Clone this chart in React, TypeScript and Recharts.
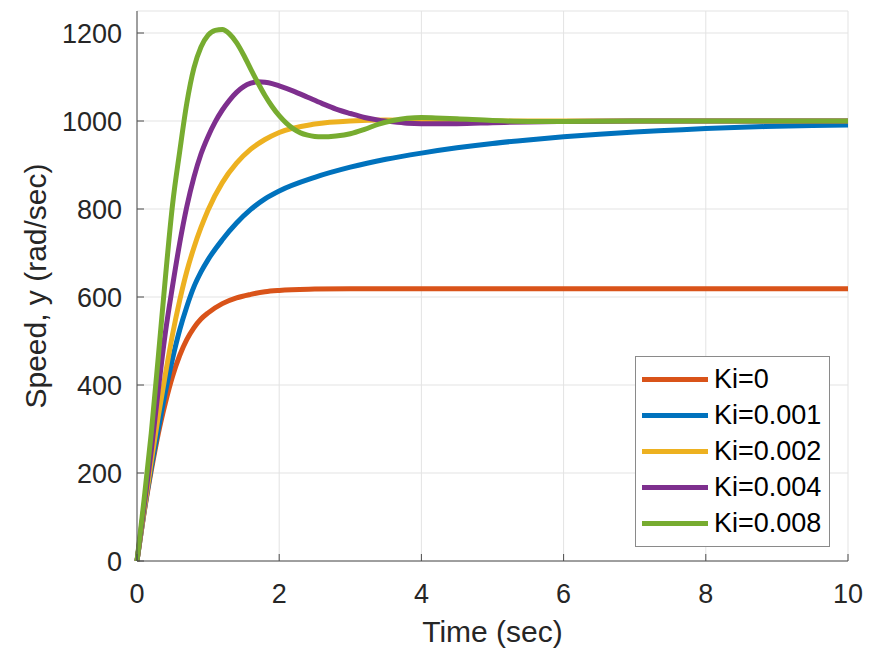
import React from "react";
import {
  CartesianGrid,
  Legend,
  Line,
  LineChart,
  XAxis,
  YAxis,
} from "recharts";

// time samples (sec) and speed (rad/sec), one pair per Ki
const timeKi0 = [0, 0.1, 0.2, 0.3, 0.4, 0.5, 0.6, 0.7, 0.8, 0.9, 1.0, 1.2, 1.4, 1.6, 1.8, 2.0, 2.5, 3, 4, 6, 8, 10];
const speedKi0 = [0, 110, 205, 290, 360, 420, 467, 503, 530, 550, 564, 585, 598, 606, 612, 615, 618, 619, 619, 619, 619, 619];

const timeKi001 = [0, 0.1, 0.2, 0.3, 0.4, 0.5, 0.6, 0.7, 0.8, 0.9, 1.0, 1.2, 1.4, 1.6, 1.8, 2.0, 2.5, 3, 3.5, 4, 4.5, 5, 5.5, 6, 6.5, 7, 7.5, 8, 8.5, 9, 9.5, 10];
const speedKi001 = [0, 112, 212, 300, 385, 460, 525, 578, 623, 657, 685, 730, 768, 799, 823, 841, 872, 895, 913, 927, 939, 949, 957, 964, 970, 975, 979, 983, 986, 988, 990, 991];

const timeKi002 = [0, 0.1, 0.2, 0.3, 0.4, 0.5, 0.6, 0.7, 0.8, 0.9, 1.0, 1.2, 1.4, 1.6, 1.8, 2.0, 2.5, 3, 3.5, 4, 5, 6, 8, 10];
const speedKi002 = [0, 115, 225, 330, 425, 515, 592, 658, 712, 758, 798, 860, 904, 936, 958, 974, 993, 1000, 1002, 1001, 1000, 1000, 1000, 1000];

const timeKi004 = [0, 0.1, 0.2, 0.3, 0.4, 0.5, 0.6, 0.7, 0.8, 0.9, 1.0, 1.1, 1.2, 1.3, 1.4, 1.5, 1.6, 1.7, 1.8, 1.9, 2.0, 2.2, 2.4, 2.6, 2.8, 3.0, 3.2, 3.4, 3.6, 3.8, 4.0, 4.5, 5, 5.5, 6, 7, 8, 10];
const speedKi004 = [0, 125, 250, 390, 520, 625, 722, 805, 872, 925, 965, 998, 1025, 1047, 1065, 1078, 1086, 1089, 1088, 1085, 1080, 1068, 1054, 1040, 1027, 1017, 1008, 1002, 998, 995, 994, 994, 996, 998, 999, 1000, 1000, 1000];

const timeKi008 = [0, 0.1, 0.2, 0.3, 0.4, 0.5, 0.6, 0.7, 0.8, 0.9, 1.0, 1.1, 1.2, 1.3, 1.4, 1.5, 1.6, 1.7, 1.8, 1.9, 2.0, 2.1, 2.2, 2.3, 2.4, 2.5, 2.6, 2.8, 3.0, 3.2, 3.4, 3.6, 3.8, 4.0, 4.2, 4.5, 5, 5.5, 6, 7, 8, 10];
const speedKi008 = [0, 140, 290, 465, 645, 810, 930, 1040, 1120, 1168, 1195, 1206, 1208, 1198, 1178, 1150, 1118, 1087, 1058, 1033, 1012, 995, 982, 973, 968, 965, 964, 966, 971, 981, 993, 1001, 1006, 1008, 1007, 1005, 1001, 999, 999, 1000, 1000, 1000];

const xTicks = [0, 2, 4, 6, 8, 10];
const yTicks = [0, 200, 400, 600, 800, 1000, 1200];

const toPoints = (t: number[], y: number[]) => t.map((v, i) => ({ t: v, y: y[i] }));

const series = [
  { name: "Ki=0", color: "#D95319", data: toPoints(timeKi0, speedKi0) },
  { name: "Ki=0.001", color: "#0072BD", data: toPoints(timeKi001, speedKi001) },
  { name: "Ki=0.002", color: "#EDB120", data: toPoints(timeKi002, speedKi002) },
  { name: "Ki=0.004", color: "#7E2F8E", data: toPoints(timeKi004, speedKi004) },
  { name: "Ki=0.008", color: "#77AC30", data: toPoints(timeKi008, speedKi008) },
];

const font = "'Liberation Sans', Arial, sans-serif";
const axisColor = "#4d4d4d";
const textColor = "#262626";

function LegendBox() {
  return (
    <div
      style={{
        width: 193,
        height: 185,
        border: "1px solid #8a8a8a",
        background: "#fff",
        paddingTop: 4,
        boxSizing: "content-box",
        fontFamily: font,
      }}
    >
      {series.map((s) => (
        <div key={s.name} style={{ display: "flex", alignItems: "center", height: 36 }}>
          <div style={{ width: 66, height: 5, background: s.color, marginLeft: 6, marginRight: 6 }} />
          <span style={{ fontSize: 27, color: "#000", lineHeight: "36px" }}>{s.name}</span>
        </div>
      ))}
    </div>
  );
}

export default function App() {
  return (
    <div style={{ position: "absolute", left: 0, top: 0, background: "#fff" }}>
      <LineChart
        width={875}
        height={649}
        margin={{ top: 11, right: 27, left: 0, bottom: 0 }}
        style={{ fontFamily: font }}
      >
        <CartesianGrid stroke="#e3e3e3" strokeWidth={1} />
        <XAxis
          dataKey="t"
          type="number"
          domain={[0, 10]}
          ticks={xTicks}
          height={88}
          stroke={axisColor}
          tickSize={-7}
          tickMargin={30}
          tick={{ fontSize: 27, fill: textColor }}
          allowDuplicatedCategory={false}
          label={(props: any) => {
            const vb = props.viewBox;
            return (
              <text x={vb.x + vb.width / 2} y={642} textAnchor="middle" fontSize={30} fill={textColor}>
                Time (sec)
              </text>
            );
          }}
        />
        <XAxis
          xAxisId="top"
          orientation="top"
          type="number"
          domain={[0, 10]}
          ticks={xTicks}
          height={0}
          stroke={axisColor}
          tickSize={-7}
          tickFormatter={() => ""}
        />
        <YAxis
          type="number"
          domain={[0, 1250]}
          ticks={yTicks}
          width={137}
          stroke={axisColor}
          tickSize={-7}
          tickMargin={22}
          tick={{ fontSize: 27, fill: textColor }}
          label={(props: any) => {
            const vb = props.viewBox;
            const cy = vb.y + vb.height / 2;
            return (
              <text
                x={46}
                y={cy}
                transform={`rotate(-90 46 ${cy})`}
                textAnchor="middle"
                fontSize={30}
                fill={textColor}
              >
                Speed, y (rad/sec)
              </text>
            );
          }}
        />
        <YAxis
          yAxisId="right"
          orientation="right"
          type="number"
          domain={[0, 1250]}
          ticks={yTicks}
          width={0}
          stroke={axisColor}
          tickSize={-7}
          tickFormatter={() => ""}
        />
        <Legend
          layout="horizontal"
          verticalAlign="middle"
          align="center"
          content={() => <LegendBox />}
          wrapperStyle={{ position: "absolute", left: 635, top: 356, width: 195, height: 189 }}
        />
        {series.map((s) => (
          <Line
            key={s.name}
            data={s.data}
            dataKey="y"
            name={s.name}
            type="monotone"
            stroke={s.color}
            strokeWidth={5}
            dot={false}
            activeDot={false}
            isAnimationActive={false}
          />
        ))}
      </LineChart>
    </div>
  );
}
